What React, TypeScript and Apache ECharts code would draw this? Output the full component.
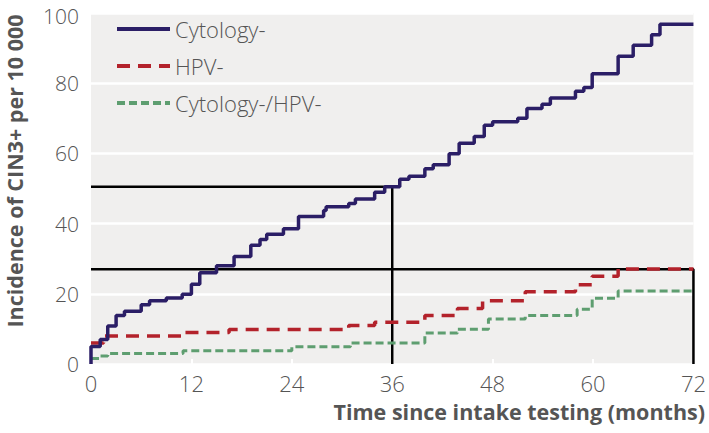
import React, { useEffect, useRef } from "react";
import * as echarts from "echarts";

const xTicks = [0, 12, 24, 36, 48, 60, 72];
const yTicks = [0, 20, 40, 60, 80, 100];

const cytoT = [0, 0, 1.1, 2, 3, 4, 6, 7, 9, 10.9, 12, 13, 15, 17.1, 19.1, 20.2, 21, 23, 24.8, 27.8, 28.1, 30.8, 31.6, 33.9, 35.1, 36.9, 38, 39.9, 40.9, 42.8, 44, 45.8, 47, 48, 51, 52.1, 53.9, 54.9, 57.9, 58.9, 59.9, 63, 64.8, 67, 68, 72];
const cytoV = [0, 5, 7, 10.8, 13.8, 15, 16.9, 18, 18.8, 19.9, 22.7, 26, 28, 30.6, 33.8, 35.5, 37, 38.5, 42, 43.7, 44.8, 45.7, 47, 48.9, 50.5, 52.6, 53.5, 55.6, 56.8, 59.9, 62.9, 64.8, 68, 69, 70, 72.8, 74, 75.8, 77.7, 78.8, 82.7, 87.7, 90.8, 93.8, 96.8, 96.8];

const hpvT = [0, 1.5, 11, 16.5, 30.8, 33.9, 39.9, 43.8, 46.8, 51.9, 57.9, 59.9, 63, 72];
const hpvV = [6, 8, 9, 9.8, 11, 11.9, 13.8, 15.8, 18, 20.6, 22.6, 25, 27.1, 27.1];

const grnT = [0, 1, 2, 11, 24, 31, 39.9, 43.8, 47.5, 51.9, 58.1, 59.9, 63, 72];
const grnV = [1.6, 2.3, 3, 3.8, 4.9, 6, 8.8, 9.9, 12.8, 13.8, 15.6, 18.7, 20.8, 20.8];

const refX = [36, 72];
const refY = [50.5, 27];

const seriesNames = ["Cytology-", "HPV-", "Cytology-/HPV-"];

const FONT = '"Open Sans", "Noto Sans", sans-serif';

export default function App() {
  const ref = useRef<HTMLDivElement>(null);
  useEffect(() => {
    if (!ref.current) return;
    const chart = echarts.init(ref.current, undefined, { renderer: "svg" });
    const zip = (t: number[], v: number[]) => t.map((x, i) => [x, v[i]]);
    const refSeries = refX.map((x, i) => ({
      type: "line",
      data: [
        [0, refY[i]],
        [x, refY[i]],
        [x, 0],
      ],
      symbol: "none",
      silent: true,
      lineStyle: { color: "#000", width: 2.5 },
      z: 1,
    }));
    const yMax = yTicks[yTicks.length - 1];
    chart.setOption({
      animation: false,
      grid: {
        left: 91,
        right: 12,
        top: 9,
        bottom: 69,
        show: true,
        backgroundColor: "#f0efee",
        borderWidth: 0,
      },
      legend: {
        data: seriesNames,
        orient: "vertical",
        left: 110,
        top: 13,
        itemWidth: 53,
        itemHeight: 14,
        itemGap: 15,
        itemStyle: { opacity: 0 },
        lineStyle: { width: 4 },
        textStyle: { fontFamily: FONT, fontSize: 22, fontWeight: 300, color: "#555" },
      },
      xAxis: {
        type: "value",
        min: 0,
        max: 72,
        interval: 12,
        axisLine: { show: false },
        axisTick: { show: true, inside: true, length: 5, lineStyle: { color: "#fff", width: 2 } },
        splitLine: { show: false },
        axisLabel: {
          fontFamily: FONT,
          fontSize: 22,
          fontWeight: 300,
          color: "#555",
          margin: 8,
          formatter: (v: number) => (xTicks.includes(v) ? String(v) : ""),
        },
      },
      yAxis: {
        type: "value",
        min: 0,
        max: yMax,
        interval: 20,
        axisLine: { show: false },
        axisTick: { show: false },
        splitLine: { show: true, lineStyle: { color: "#fff", width: 2.5 } },
        axisLabel: {
          fontFamily: FONT,
          fontSize: 21,
          fontWeight: 300,
          lineHeight: 16,
          color: "#555",
          margin: 12,
          formatter: (v: number) =>
            v === yMax ? `{top|${v}}` : yTicks.includes(v) ? String(v) : "",
          rich: {
            top: {
              fontFamily: FONT,
              fontSize: 21,
              fontWeight: 300,
              lineHeight: 16,
              color: "#555",
              padding: [5, 0, 0, 0],
            },
          },
        },
      },
      graphic: [
        {
          type: "text",
          right: 4,
          top: 400,
          style: {
            text: "Time since intake testing (months)",
            font: `bold 21.5px ${FONT}`,
            fill: "#555",
          },
        },
        {
          type: "text",
          x: 14,
          y: 171,
          rotation: Math.PI / 2,
          style: {
            text: "Incidence of CIN3+ per 10 000",
            font: `bold 21.5px ${FONT}`,
            fill: "#555",
            textAlign: "center",
            textVerticalAlign: "middle",
          },
        },
      ],
      series: [
        ...refSeries,
        {
          name: seriesNames[0],
          type: "line",
          step: "end",
          data: zip(cytoT, cytoV),
          symbol: "none",
          lineStyle: { color: "#2b1e66", width: 3.5 },
          itemStyle: { color: "#2b1e66" },
          z: 4,
        },
        {
          name: seriesNames[1],
          type: "line",
          step: "end",
          data: zip(hpvT, hpvV),
          symbol: "none",
          lineStyle: { color: "#b3222b", width: 3.5, type: [13, 8] },
          itemStyle: { color: "#b3222b" },
          z: 3,
        },
        {
          name: seriesNames[2],
          type: "line",
          step: "end",
          data: zip(grnT, grnV),
          symbol: "none",
          lineStyle: { color: "#5e9e70", width: 3, type: [8, 4] },
          itemStyle: { color: "#5e9e70" },
          z: 3,
        },
      ],
    });
    return () => chart.dispose();
  }, []);
  return <div ref={ref} style={{ width: 709, height: 433, position: "absolute", left: 0, top: 0 }} />;
}
